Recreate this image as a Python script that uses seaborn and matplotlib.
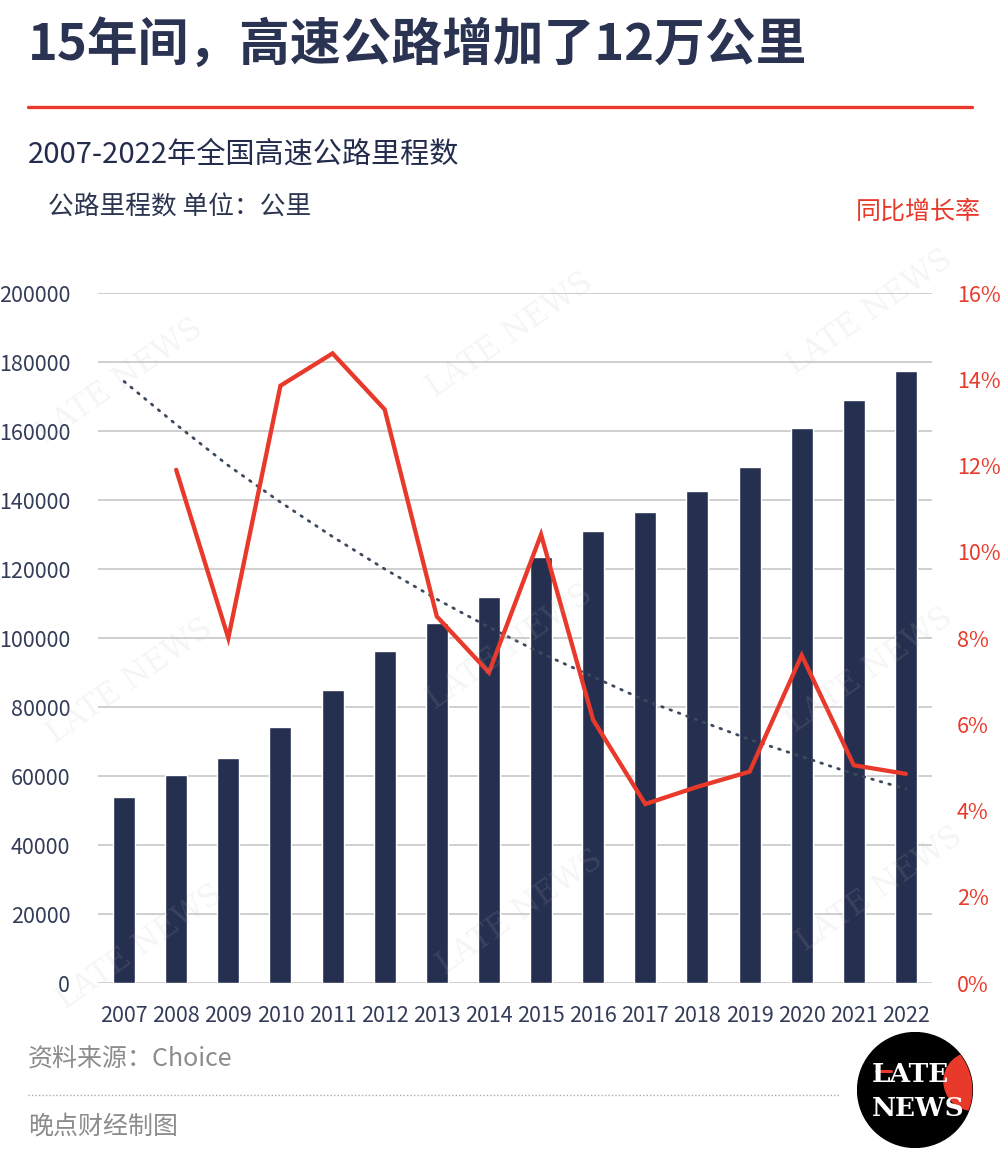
import numpy as np
import pandas as pd
import matplotlib.pyplot as plt
import seaborn as sns
from matplotlib.patches import Circle
from matplotlib.lines import Line2D

# 数据
years = ['2007', '2008', '2009', '2010', '2011', '2012', '2013', '2014',
         '2015', '2016', '2017', '2018', '2019', '2020', '2021', '2022']
mileage = [53900, 60300, 65100, 74100, 84900, 96200, 104400, 111900,
           123500, 131000, 136400, 142600, 149600, 161000, 169100, 177300]
growth = [np.nan, 11.9, 8.0, 13.85, 14.6, 13.3, 8.5, 7.2,
          10.4, 6.1, 4.15, 4.55, 4.9, 7.6, 5.05, 4.85]
trend = [13.95, 12.95, 12.0, 11.15, 10.35, 9.6, 8.9, 8.25,
         7.65, 7.1, 6.55, 6.1, 5.65, 5.25, 4.85, 4.5]

left_ticks = [0, 20000, 40000, 60000, 80000, 100000, 120000, 140000, 160000, 180000, 200000]
right_ticks = [0, 2, 4, 6, 8, 10, 12, 14, 16]

navy = '#252f4f'
red = '#e8392b'
gray = '#8c8c8c'

sns.set_theme(style='white')
plt.rcParams['font.family'] = ['Noto Sans CJK SC', 'DejaVu Sans']

fig = plt.figure(figsize=(10, 11.55), dpi=100)
ax = fig.add_axes([0.098, 0.1489, 0.834, 0.5974])

df = pd.DataFrame({'year': years, 'mileage': mileage})
sns.barplot(data=df, x='year', y='mileage', color=navy, width=0.42,
            saturation=1, ax=ax, zorder=2)
ax.set_xlim(-0.5, len(years) - 0.5)
ax.set_ylim(0, 200000)
ax.set_yticks(left_ticks)
ax.set_yticklabels([str(v) for v in left_ticks])
ax.set_xlabel('')
ax.set_ylabel('')
ax.grid(axis='y', color='#cccccc', lw=1.3, zorder=0)
ax.set_axisbelow(True)
for s in ax.spines.values():
    s.set_visible(False)
ax.tick_params(axis='y', length=0, pad=20, labelsize=15.5, labelcolor='#333c58')
ax.tick_params(axis='x', length=0, pad=16, labelsize=15.5, labelcolor='#333c58')

ax2 = ax.twinx()
x = np.arange(len(years))
ax2.plot(x, trend, color='#3d4a5c', lw=2, linestyle=(0, (0.6, 2.6)),
         dash_capstyle='round', zorder=3)
ax2.plot(x, growth, color=red, lw=3.1, solid_joinstyle='miter', zorder=4)
ax2.set_ylim(0, 16)
ax2.set_yticks(right_ticks)
ax2.set_yticklabels([f'{v}%' for v in right_ticks])
ax2.grid(False)
for s in ax2.spines.values():
    s.set_visible(False)
ax2.tick_params(axis='y', length=0, pad=18, labelsize=15.5, labelcolor=red)

# 水印
for wx, wy in [(0.12, 0.67), (0.51, 0.71), (0.87, 0.73), (0.13, 0.41),
               (0.51, 0.44), (0.87, 0.42), (0.14, 0.18), (0.52, 0.21), (0.88, 0.23)]:
    fig.text(wx, wy, 'LATE NEWS', fontsize=22, family='DejaVu Serif', color='#bbbbbb',
             alpha=0.14, rotation=35, ha='center', va='center', zorder=1)

# 标题与文字
fig.text(0.028, 1 - 45 / 1155, '15年间，高速公路增加了12万公里', fontsize=36.5,
         fontweight='bold', color='#2a3352', va='center', ha='left')
fig.add_artist(Line2D([0.028, 0.972], [1 - 107 / 1155] * 2, color=red, lw=2.4))
fig.text(0.028, 1 - 155 / 1155, '2007-2022年全国高速公路里程数', fontsize=21,
         fontweight='medium', color='#232c4c', va='center', ha='left')
fig.text(0.048, 1 - 208 / 1155, '公路里程数 单位：公里', fontsize=18.5,
         color='#2c3550', va='center', ha='left')
fig.text(0.981, 1 - 212 / 1155, '同比增长率', fontsize=18,
         color=red, va='center', ha='right')
fig.text(0.028, 1 - 1060 / 1155, '资料来源：Choice', fontsize=18,
         color=gray, va='center', ha='left')
fig.add_artist(Line2D([0.028, 0.84], [1 - 1095 / 1155] * 2, color='#aaaaaa',
                      lw=1, linestyle=(0, (1, 1.5))))
fig.text(0.028, 1 - 1127 / 1155, '晚点财经制图', fontsize=18,
         color=gray, va='center', ha='left')

# 标志
lax = fig.add_axes([0.857, 1 - 1148 / 1155, 0.116, 0.116 * 1000 / 1155])
lax.set_xlim(-1, 1)
lax.set_ylim(-1, 1)
lax.axis('off')
black = Circle((0, 0), 0.99, color='black')
lax.add_patch(black)
redc = Circle((1.0, 0.15), 0.5, color=red)
lax.add_patch(redc)
redc.set_clip_path(black)
lax.text(-0.08, 0.27, 'LATE', color='white', family='DejaVu Serif', fontsize=19,
         fontweight='bold', ha='center', va='center')
lax.text(0.05, -0.32, 'NEWS', color='white', family='DejaVu Serif', fontsize=19,
         fontweight='bold', ha='center', va='center')
lax.plot([-0.68, -0.42], [0.32, 0.32], color=red, lw=2.2)

fig.savefig('out.png', dpi=100, facecolor='white')
